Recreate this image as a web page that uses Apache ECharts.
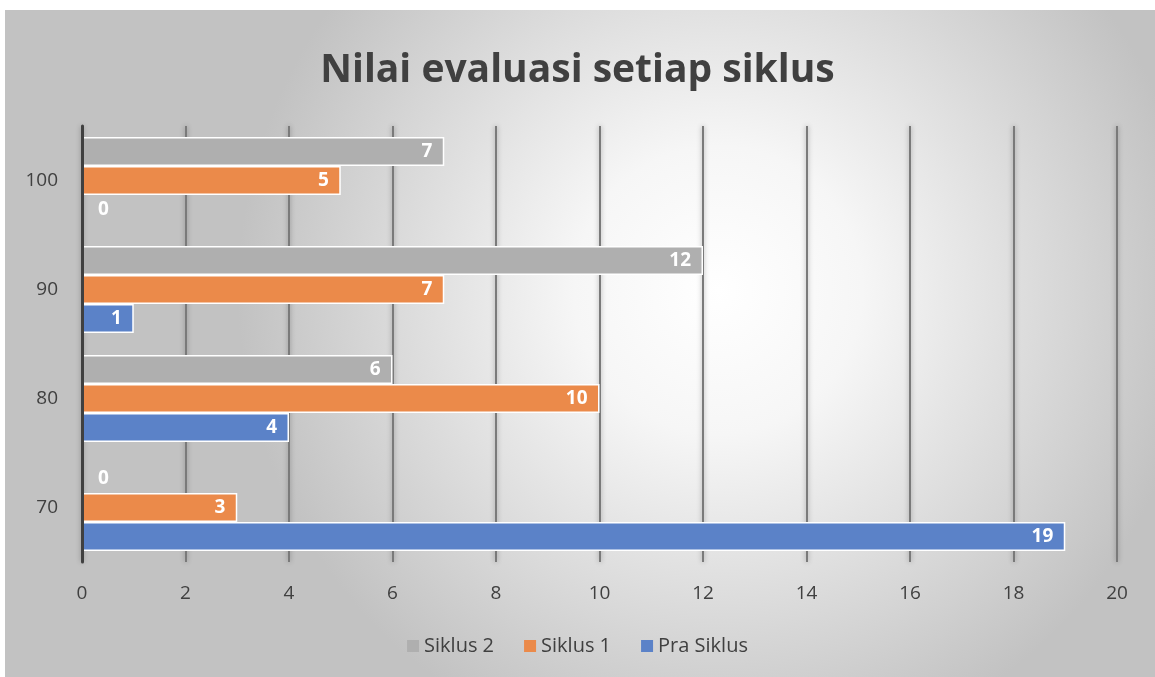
<!DOCTYPE html>
<html>
<head>
<meta charset="utf-8">
<script src="https://cdn.jsdelivr.net/npm/echarts@6/dist/echarts.min.js"></script>
<style>
html,body{margin:0;padding:0;background:#fff;}
#c{width:1155px;height:677px;}
</style>
</head>
<body>
<div id="c"></div>
<script>
const categories = ['70', '80', '90', '100'];
const praSiklus = [19, 4, 1, 0];
const siklus1 = [3, 10, 7, 5];
const siklus2 = [0, 6, 12, 7];
const xTicks = [0, 2, 4, 6, 8, 10, 12, 14, 16, 18, 20];

const FONT = '"Open Sans", "Noto Sans", sans-serif';

function mkData(arr) {
  return arr.map(v => v === 0
    ? { value: v, itemStyle: { borderWidth: 0 }, label: { position: 'right', distance: 16 } }
    : v);
}
function mkSeries(name, arr, color) {
  return {
    name: name,
    type: 'bar',
    data: mkData(arr),
    barGap: '0%',
    barCategoryGap: '20%',
    itemStyle: { color: color, borderColor: '#ffffff', borderWidth: 1.5 },
    label: {
      show: true,
      position: 'insideRight',
      distance: 12,
      color: '#ffffff',
      fontFamily: FONT,
      fontWeight: 'bold',
      fontSize: 19
    }
  };
}

const chart = echarts.init(document.getElementById('c'));
chart.setOption({
  animation: false,
  graphic: [{
    type: 'rect',
    z: -10,
    silent: true,
    shape: { x: 5, y: 10, width: 1150, height: 667 },
    style: {
      fill: new echarts.graphic.RadialGradient(0.62, 0.42, 0.72, [
        { offset: 0, color: '#ffffff' },
        { offset: 0.3, color: '#f6f6f6' },
        { offset: 1, color: '#c2c2c2' }
      ])
    }
  }],
  title: {
    text: 'Nilai evaluasi setiap siklus',
    left: 'center',
    top: 46,
    textStyle: { fontFamily: FONT, fontWeight: 'bold', fontSize: 39, color: '#404040' }
  },
  legend: {
    data: ['Siklus 2', 'Siklus 1', 'Pra Siklus'],
    bottom: 16,
    left: 'center',
    itemWidth: 12,
    itemHeight: 12,
    itemGap: 30,
    icon: 'rect',
    itemStyle: { borderWidth: 0 },
    textStyle: { fontFamily: FONT, fontSize: 20, color: '#404040' }
  },
  grid: { left: 82, right: 38, top: 126, bottom: 115, containLabel: false },
  xAxis: {
    type: 'value',
    min: xTicks[0],
    max: xTicks[xTicks.length - 1],
    interval: 2,
    axisLine: { show: false },
    axisTick: { show: false },
    axisLabel: { fontFamily: FONT, fontSize: 19, color: '#404040', margin: 22 },
    splitLine: {
      show: true,
      lineStyle: { color: '#7a7a7a', width: 2, shadowColor: 'rgba(0,0,0,0.35)', shadowBlur: 5 }
    }
  },
  yAxis: {
    type: 'category',
    data: categories,
    z: 5,
    axisLine: { show: true, lineStyle: { color: '#404040', width: 3 } },
    axisTick: { show: false },
    axisLabel: { fontFamily: FONT, fontSize: 19, color: '#404040', margin: 24 }
  },
  series: [
    mkSeries('Siklus 2', siklus2, '#afafaf'),
    mkSeries('Siklus 1', siklus1, '#eb8a4a'),
    mkSeries('Pra Siklus', praSiklus, '#5b82c8')
  ]
});
</script>
</body>
</html>
